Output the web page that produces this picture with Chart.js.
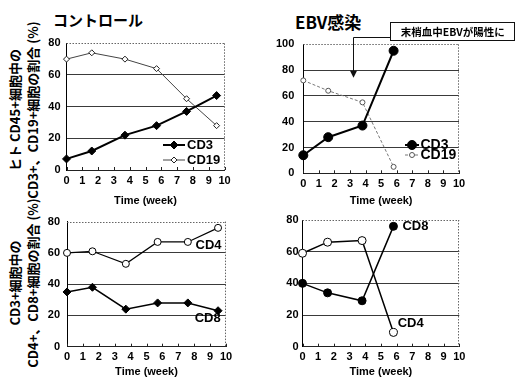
<!DOCTYPE html>
<html>
<head>
<meta charset="utf-8">
<script src="https://cdn.jsdelivr.net/npm/chart.js@4/dist/chart.umd.min.js"></script>
<style>
  html, body { margin: 0; padding: 0; background: #fff; }
  body { width: 517px; height: 381px; position: relative; overflow: hidden; }
  canvas { position: absolute; }
  .heading { position: absolute; font-family: "Noto Sans CJK JP", sans-serif; color: #000; white-space: nowrap; line-height: 1; }
  .ytitle { position: absolute; width: 220px; height: 36px; transform: rotate(-90deg); transform-origin: 50% 50%;
            font-family: "Noto Sans CJK JP", sans-serif; font-weight: bold; font-size: 13px; line-height: 18px;
            text-align: center; white-space: nowrap; color: #000; }
</style>
</head>
<body>
<div class="heading" style="left:53px; top:12px; font-size:15px; font-weight:bold;">コントロール</div>
<div class="heading" style="left:295px; top:13px; font-size:17px; font-weight:bold;">EBV感染</div>
<div class="ytitle" style="left:-86px; top:92px;">ヒト CD45+細胞中の<br>CD3+、CD19+細胞の割合 (%)</div>
<div class="ytitle" style="left:-86px; top:265px;">CD3+細胞中の<br>CD4+、CD8+細胞の割合 (%)</div>

<canvas id="ctrlTop" width="214" height="208" style="left:36px; top:0px;"></canvas>
<canvas id="ebvTop" width="247" height="208" style="left:270px; top:0px;"></canvas>
<canvas id="ctrlBottom" width="214" height="173" style="left:36px; top:208px;"></canvas>
<canvas id="ebvBottom" width="247" height="173" style="left:270px; top:208px;"></canvas>

<script>
// Sampling times (weeks after transplantation)
const weeksCtrl = [0, 1.6, 3.7, 5.7, 7.6, 9.5];
const weeksEbv  = [0, 1.6, 3.8, 5.8];

// Share of CD3+ / CD19+ cells among human CD45+ cells (%)
const ctrlCD3  = [7, 12, 22, 28, 37, 47];
const ctrlCD19 = [70, 74, 70, 64, 45, 28];
const ebvCD3   = [14, 28, 37, 95];
const ebvCD19  = [72, 64, 55, 5];

// Share of CD4+ / CD8+ cells among CD3+ cells (%)
const ctrlCD4 = [60, 61, 53, 67, 67, 76];
const ctrlCD8 = [35, 38, 24, 28, 28, 23];
const ebvCD4  = [59, 66, 67, 9];
const ebvCD8  = [40, 34, 29, 76];

// Axis text
const xTitle = 'Time (week)';
const weekMin = 0, weekMax = 10, weekStep = 1;
const yLabelStep = 20;
const noteText = '末梢血中EBVが陽性に';

const FONT = '"Liberation Sans", Arial, sans-serif';
const JP = '"Noto Sans CJK JP", sans-serif';

const pts = (xs, ys) => xs.map((x, i) => ({ x, y: ys[i] }));

function drawMarker(ctx, ds, cx, cy) {
  const r = ds.pointRadius;
  ctx.save();
  ctx.setLineDash([]);
  ctx.fillStyle = ds.pointBackgroundColor;
  ctx.strokeStyle = ds.pointBorderColor;
  ctx.lineWidth = ds.pointBorderWidth;
  ctx.beginPath();
  if (ds.pointStyle === 'rectRot') {
    ctx.moveTo(cx, cy - r); ctx.lineTo(cx + r, cy); ctx.lineTo(cx, cy + r); ctx.lineTo(cx - r, cy); ctx.closePath();
  } else {
    ctx.arc(cx, cy, r, 0, Math.PI * 2);
  }
  ctx.fill(); ctx.stroke();
  ctx.restore();
}

// Frame details, in-plot legends, inline series names and the note box
const decor = {
  id: 'decor',
  afterDraw(chart, args, opts) {
    const { ctx, chartArea: a, scales: { x, y } } = chart;
    ctx.save();
    // dotted top and right edges of the plot box
    ctx.strokeStyle = '#666'; ctx.lineWidth = 1; ctx.setLineDash([1.5, 1.5]);
    ctx.beginPath();
    ctx.moveTo(a.left, Math.round(a.top) + 0.5); ctx.lineTo(a.right, Math.round(a.top) + 0.5);
    ctx.moveTo(Math.round(a.right) - 0.5, a.top); ctx.lineTo(Math.round(a.right) - 0.5, a.bottom);
    ctx.stroke();
    ctx.setLineDash([]);
    // short week ticks pointing into the plot
    ctx.strokeStyle = '#222';
    ctx.beginPath();
    x.ticks.forEach(t => {
      const px = Math.round(x.getPixelForValue(t.value)) + 0.5;
      ctx.moveTo(px, a.bottom); ctx.lineTo(px, a.bottom - 3);
    });
    ctx.stroke();

    // legend rows
    (opts.legend || []).forEach(item => {
      const ds = chart.data.datasets[item.dataset];
      const yy = a.bottom + item.dy;
      const xs = a.right + item.x1, xe = a.right + item.x2;
      ctx.strokeStyle = ds.borderColor; ctx.lineWidth = ds.borderWidth;
      ctx.setLineDash(ds.borderDash || []);
      ctx.beginPath(); ctx.moveTo(xs, yy); ctx.lineTo(xe, yy); ctx.stroke();
      ctx.setLineDash([]);
      drawMarker(ctx, ds, (xs + xe) / 2, yy);
      ctx.fillStyle = '#000';
      ctx.font = 'bold ' + item.size + 'px ' + FONT;
      ctx.textAlign = 'left'; ctx.textBaseline = 'middle';
      ctx.fillText(ds.label, a.right + item.tx, yy + 0.5);
    });

    // series names written next to the lines
    (opts.labels || []).forEach(l => {
      ctx.fillStyle = '#000';
      ctx.font = 'bold 13px ' + FONT;
      ctx.textAlign = 'center'; ctx.textBaseline = 'middle';
      ctx.fillText(l.text, x.getPixelForValue(l.x), y.getPixelForValue(l.y));
    });

    // call-out box with elbow arrow
    const n = opts.note;
    if (n) {
      const bl = x.getPixelForValue(n.x1), br = x.getPixelForValue(n.x2);
      const bt = y.getPixelForValue(n.yTop), bb = y.getPixelForValue(n.yBottom);
      const ax = Math.round(x.getPixelForValue(n.arrowX)) + 0.5;
      const ey = Math.round(y.getPixelForValue(n.elbowY)) + 0.5;
      const ty = y.getPixelForValue(n.tipY);
      ctx.strokeStyle = '#111'; ctx.lineWidth = 1;
      ctx.beginPath();
      ctx.moveTo(bl, ey); ctx.lineTo(ax, ey); ctx.lineTo(ax, ty - 5);
      ctx.stroke();
      ctx.fillStyle = '#111';
      ctx.beginPath();
      ctx.moveTo(ax - 3.5, ty - 7); ctx.lineTo(ax + 3.5, ty - 7); ctx.lineTo(ax, ty); ctx.closePath();
      ctx.fill();
      ctx.fillStyle = '#fff';
      ctx.fillRect(bl, bt, br - bl, bb - bt);
      ctx.strokeRect(Math.round(bl) + 0.5, Math.round(bt) + 0.5, Math.round(br - bl) - 1, Math.round(bb - bt));
      ctx.fillStyle = '#000';
      ctx.font = 'bold 10.5px ' + JP;
      ctx.textAlign = 'center'; ctx.textBaseline = 'middle';
      ctx.fillText(n.text, (bl + br) / 2, (bt + bb) / 2 + 1);
    }
    ctx.restore();
  }
};

function scales(yMax, yWidth, xHeight, yPad) {
  const tickFont = { family: FONT, size: 11, weight: 'bold' };
  return {
    x: {
      type: 'linear', min: weekMin, max: weekMax,
      ticks: { stepSize: weekStep, padding: 4, color: '#000', font: tickFont, maxRotation: 0, autoSkip: false },
      grid: { display: false, drawTicks: false },
      border: { display: true, color: '#222', width: 1 },
      title: { display: true, text: xTitle, color: '#000', font: tickFont, padding: { top: 0, bottom: 0 } },
      afterFit: s => { s.height = xHeight; }
    },
    y: {
      min: 0, max: yMax,
      ticks: { stepSize: 10, padding: yPad, color: '#000', font: tickFont,
               callback: v => (v % yLabelStep === 0 ? v : '') },
      grid: { drawTicks: false, lineWidth: 1,
              color: c => (c.tick && c.tick.value === yMax ? 'rgba(0,0,0,0)' : '#3a3a3a') },
      border: { display: true, color: '#000', width: 1 },
      afterFit: s => { s.width = yWidth; }
    }
  };
}

function series(label, xs, ys, style) {
  return Object.assign({
    label, data: pts(xs, ys), clip: false, tension: 0, fill: false,
    borderColor: '#000', borderWidth: 1.5, pointBorderColor: '#000', pointBorderWidth: 1,
    pointBackgroundColor: '#000', pointStyle: 'circle', pointRadius: 4, pointHoverRadius: 4
  }, style);
}

function panel(id, datasets, sc, padding, decorOpts) {
  return new Chart(document.getElementById(id), {
    type: 'line',
    data: { datasets },
    options: {
      responsive: false, animation: false, devicePixelRatio: 1,
      layout: { padding },
      scales: sc,
      plugins: { legend: { display: false }, tooltip: { enabled: false }, decor: decorOpts }
    },
    plugins: [decor]
  });
}

// Control: CD3 / CD19
panel('ctrlTop', [
  series('CD3', weeksCtrl, ctrlCD3, { borderWidth: 2, pointStyle: 'rectRot', pointRadius: 4 }),
  series('CD19', weeksCtrl, ctrlCD19, { borderWidth: 1, borderColor: '#444', pointStyle: 'rectRot', pointRadius: 3,
                                        pointBackgroundColor: '#fff', pointBorderColor: '#222' })
], scales(80, 30.5, 38, 6), { left: 0, top: 43.3, right: 25.5, bottom: 0 }, {
  legend: [
    { dataset: 0, dy: -25, x1: -61.5, x2: -39.5, tx: -37.5, size: 13 },
    { dataset: 1, dy: -10, x1: -61.5, x2: -39.5, tx: -37.5, size: 13 }
  ]
});

// EBV infected: CD3 / CD19
panel('ebvTop', [
  series('CD3', weeksEbv, ebvCD3, { borderWidth: 2, pointRadius: 4.5 }),
  series('CD19', weeksEbv, ebvCD19, { borderWidth: 1, borderColor: '#777', borderDash: [3, 2], pointRadius: 2.5,
                                      pointBackgroundColor: '#fff', pointBorderColor: '#555' })
], scales(100, 33.3, 34.7, 9), { left: 0, top: 44.3, right: 58, bottom: 0 }, {
  legend: [
    { dataset: 0, dy: -28.3, x1: -54, x2: -40, tx: -38.5, size: 14 },
    { dataset: 1, dy: -18.3, x1: -54, x2: -40, tx: -38.5, size: 14 }
  ],
  note: { text: noteText, x1: 5.6, x2: 13.6, yTop: 117, yBottom: 103, arrowX: 3.2, elbowY: 106, tipY: 74 }
});

// Control: CD4 / CD8
panel('ctrlBottom', [
  series('CD4', weeksCtrl, ctrlCD4, { borderWidth: 1.2, pointRadius: 3.5, pointBackgroundColor: '#fff' }),
  series('CD8', weeksCtrl, ctrlCD8, { borderWidth: 1.5, pointStyle: 'rectRot', pointRadius: 4 })
], scales(80, 31, 32.3, 7), { left: 0, top: 11.3, right: 24, bottom: 2 }, {
  labels: [ { text: 'CD4', x: 8.9, y: 65 }, { text: 'CD8', x: 8.85, y: 18 } ]
});

// EBV infected: CD4 / CD8
panel('ebvBottom', [
  series('CD4', weeksEbv, ebvCD4, { borderWidth: 1.5, pointRadius: 4, pointBackgroundColor: '#fff' }),
  series('CD8', weeksEbv, ebvCD8, { borderWidth: 1.5, pointRadius: 4 })
], scales(80, 32.5, 32.3, 4), { left: 0, top: 12, right: 57.7, bottom: 2 }, {
  labels: [ { text: 'CD8', x: 7.2, y: 76 }, { text: 'CD4', x: 6.9, y: 14.6 } ]
});
</script>
</body>
</html>
